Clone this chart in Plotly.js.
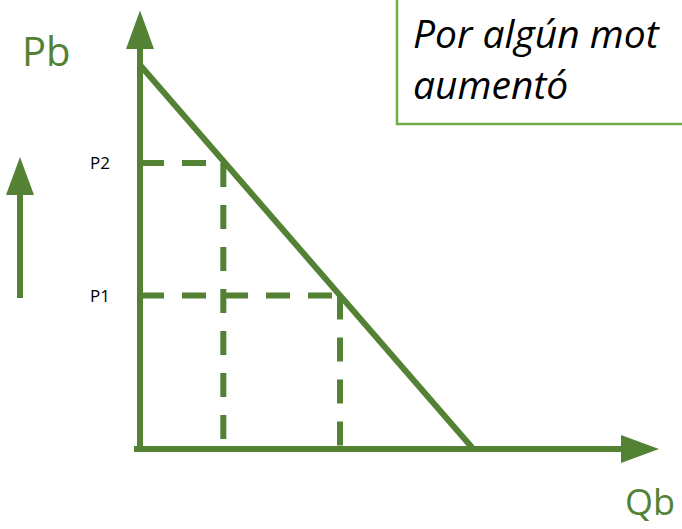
<!DOCTYPE html>
<html>
<head>
<meta charset="utf-8">
<script src="https://cdn.plot.ly/plotly-3.0.1.min.js"></script>
<style>
  html, body { margin: 0; padding: 0; background: #ffffff; overflow: hidden; }
  #chart { width: 682px; height: 529px; }
</style>
</head>
<body>
<div id="chart"></div>
<script>
// ---- Data ----
const demandQ = [0, 10];          // quantity Qb at the ends of the demand line
const demandP = [10, 0];          // price Pb at the ends of the demand line
const priceLevels = [4, 7.45];    // P1, P2
const priceLabels = ["P1", "P2"];
const quantityLevels = [6, 2.5];  // quantities demanded at P1, P2
const axisLabelP = "Pb";
const axisLabelQ = "Qb";
const noteLines = ["Por algún mot", "aumentó"];

// ---- Styles / layout ----
const W = 682, H = 529;
const green = "#548235";
const boxGreen = "#70AD47";
const font = "Open Sans, Noto Sans, sans-serif";

// axis ranges (pixel mapping: Q=0 -> x=140, Q=10 -> x=473.3 ; P=0 -> y=449, P=10 -> y=65)
const qScale = 33.333, pScale = 38.4;
const xmin = -140 / qScale, xmax = xmin + W / qScale;
const ymax = 10 + 65 / pScale, ymin = ymax - H / pScale;

const px = v => v / W;
const py = v => 1 - v / H;

const traces = [];
// demand line
traces.push({
  x: demandQ, y: demandP, mode: "lines", type: "scatter",
  line: { color: green, width: 6 }, hoverinfo: "skip", showlegend: false
});
// dashed guides
for (let i = 0; i < priceLevels.length; i++) {
  traces.push({
    x: [0, quantityLevels[i]], y: [priceLevels[i], priceLevels[i]],
    mode: "lines", type: "scatter",
    line: { color: green, width: 6, dash: "24px,18px" },
    hoverinfo: "skip", showlegend: false
  });
  traces.push({
    x: [quantityLevels[i], quantityLevels[i]], y: [priceLevels[i], 0],
    mode: "lines", type: "scatter",
    line: { color: green, width: 6, dash: "24px,18px" },
    hoverinfo: "skip", showlegend: false
  });
}

function tri(pts) {
  return "M " + pts.map(p => px(p[0]).toFixed(5) + "," + py(p[1]).toFixed(5)).join(" L ") + " Z";
}

const shapes = [
  // vertical axis
  { type: "line", xref: "paper", yref: "paper", x0: px(140), x1: px(140), y0: py(446), y1: py(48),
    line: { color: green, width: 6 } },
  { type: "path", xref: "paper", yref: "paper", path: tri([[126, 49], [154, 49], [140, 10.5]]),
    fillcolor: green, line: { width: 0 } },
  // horizontal axis
  { type: "line", xref: "paper", yref: "paper", x0: px(134), x1: px(622), y0: py(449), y1: py(449),
    line: { color: green, width: 6 } },
  { type: "path", xref: "paper", yref: "paper", path: tri([[621, 435], [621, 463], [659, 449]]),
    fillcolor: green, line: { width: 0 } },
  // small upward arrow on the left
  { type: "line", xref: "paper", yref: "paper", x0: px(20), x1: px(20), y0: py(298), y1: py(194),
    line: { color: green, width: 6 } },
  { type: "path", xref: "paper", yref: "paper", path: tri([[6, 195], [34, 195], [20, 157]]),
    fillcolor: green, line: { width: 0 } },
  // note box
  { type: "rect", xref: "paper", yref: "paper", x0: px(397), x1: px(760), y0: py(-30), y1: py(124),
    line: { color: boxGreen, width: 2.5 }, fillcolor: "rgba(0,0,0,0)" }
];

const annotations = [
  { text: axisLabelP, xref: "paper", yref: "paper", x: px(20), y: py(50), xanchor: "left", yanchor: "middle",
    showarrow: false, font: { family: font, size: 40, color: green } },
  { text: axisLabelQ, xref: "paper", yref: "paper", x: px(623), y: py(501), xanchor: "left", yanchor: "middle",
    showarrow: false, font: { family: font, size: 36, color: green } },
  { text: noteLines.join("<br>"), xref: "paper", yref: "paper", x: px(411), y: py(58), xanchor: "left", yanchor: "middle",
    align: "left", showarrow: false, font: { family: font, size: 39, color: "#000000", style: "italic" } }
];
for (let i = 0; i < priceLevels.length; i++) {
  annotations.push({
    text: priceLabels[i], xref: "paper", yref: "y", x: px(112), y: priceLevels[i],
    xanchor: "right", yanchor: "middle", showarrow: false,
    font: { family: font, size: 17, color: "#000000" }
  });
}

const layout = {
  width: W, height: H, autosize: false,
  margin: { l: 0, r: 0, t: 0, b: 0, pad: 0 },
  paper_bgcolor: "#ffffff", plot_bgcolor: "#ffffff",
  showlegend: false,
  xaxis: { range: [xmin, xmax], visible: false, fixedrange: true },
  yaxis: { range: [ymin, ymax], visible: false, fixedrange: true },
  shapes: shapes,
  annotations: annotations
};

Plotly.newPlot("chart", traces, layout, { displayModeBar: false, staticPlot: true });
</script>
</body>
</html>
